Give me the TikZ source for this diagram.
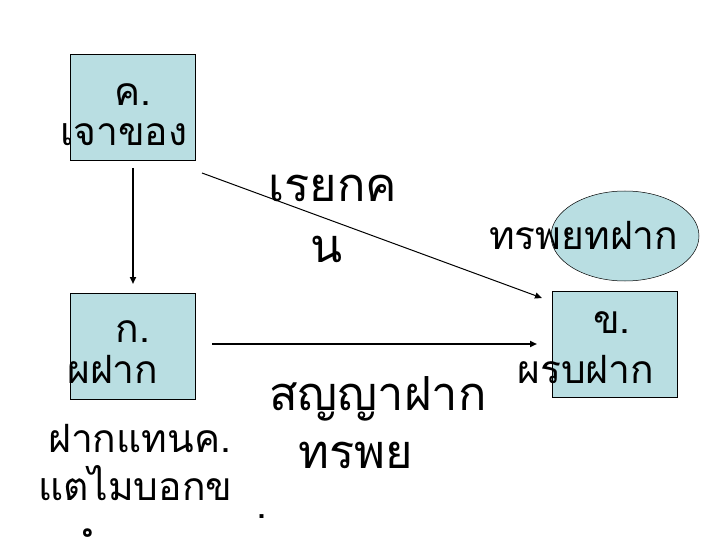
\documentclass[tikz,border=0pt]{standalone}
\usepackage{fontspec}
\newfontfamily\thaifont[Script=Thai]{Loma}
\usetikzlibrary{shapes.geometric,arrows.meta}
\definecolor{boxblue}{HTML}{B9DEE2}
\tikzset{
  bx/.style={draw=black, line width=0.6pt, fill=boxblue, minimum width=125pt, minimum height=106pt, inner sep=0pt},
  el/.style={ellipse, draw=black, line width=0.5pt, fill=boxblue, minimum width=148pt, minimum height=90pt, inner sep=0pt},
  tb/.style={font=\thaifont\fontsize{39}{42}\selectfont, inner sep=0pt},
  tl/.style={font=\thaifont\fontsize{47}{50}\selectfont, inner sep=0pt},
  arr/.style={-{Triangle[length=7pt,width=6pt]}, line width=2.2pt},
  arrthin/.style={-{Triangle[length=7pt,width=6pt]}, line width=1pt},
}
\begin{document}
\begin{tikzpicture}[x=1pt,y=-1pt]
\useasboundingbox (0,0) rectangle (720,540);
\node[bx] (kbox) at (132.5,107.5) {};
\node[bx] (gbox) at (133,346) {};
\node[bx] (khbox) at (614.5,344.5) {};
\node[el] (ell) at (625,236) {};
% box texts
\node[tb, anchor=base] (t1) at (133,106) {ค.};
\node[tb, anchor=base west] (t2) at (60,146) {เจาของ};
\node[tb, anchor=base] (t3) at (133,342) {ก.};
\node[tb, anchor=base west] (t4) at (67,383) {ผฝาก};
\node[tb, anchor=base] (t5) at (612,333) {ข.};
\node[tb, anchor=base west] (t6) at (517,383) {ผรบฝาก};
\node[tb, anchor=base west] (t7) at (489,249) {ทรพยทฝาก};
% large texts
\node[tl, anchor=base] (t8) at (333,202) {เรยกค};
\node[tl, anchor=base] (t9) at (327,262) {น};
\node[tl, anchor=base west] (t10) at (269,410) {สญญาฝาก};
\node[tl, anchor=base west] (t11) at (298,468) {ทรพย};
\node[tb, anchor=base west] (t12) at (48,452) {ฝากแทนค.};
\node[tb, anchor=base west] (t13) at (38,500) {แตไมบอกข};
\node[tb, anchor=base] (t14) at (262,518) {.};
\node[tb, anchor=base] (t15) at (93,560) {\char"0E4D};
% connectors
\coordinate (a1) at (133,168);
\coordinate (a2) at (133,284);
\coordinate (b1) at (202,173);
\coordinate (b2) at (542,298);
\coordinate (c1) at (212,344);
\coordinate (c2) at (537,344);
\draw[arr] (a1) -- (a2);
\draw[arrthin] (b1) -- (b2);
\draw[arr] (c1) -- (c2);
\end{tikzpicture}
\end{document}
